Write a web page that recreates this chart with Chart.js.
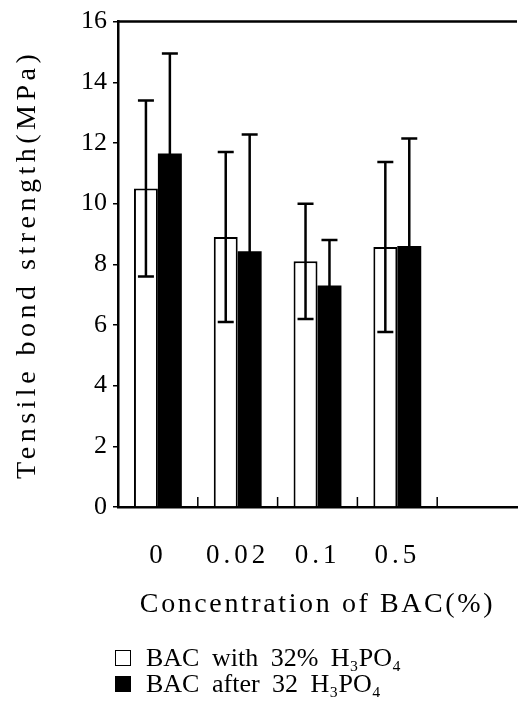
<!DOCTYPE html>
<html>
<head>
<meta charset="utf-8">
<script src="https://cdn.jsdelivr.net/npm/chart.js@4"></script>
<style>
  html, body { margin: 0; padding: 0; background: #fff; }
  #wrap { position: relative; width: 518px; height: 710px; }
  #legend { position: absolute; left: 115px; top: 645px; font-family: "Liberation Serif", serif; font-size: 26px; color: #000; }
  #legend .row { display: flex; align-items: center; height: 26px; white-space: pre; word-spacing: 6px; }
  #legend .box { width: 16px; height: 16px; border: 1.5px solid #000; margin-right: 15px; box-sizing: border-box; }
</style>
</head>
<body>
<div id="wrap">
  <canvas id="myChart" width="518" height="710"></canvas>
  <div id="legend"></div>
</div>
<script>
// data
const categories = ['0', '0.02', '0.1', '0.5', ''];
const withAcid = [10.5, 8.9, 8.1, 8.57, null];
const withAcidErr = [2.9, 2.8, 1.9, 2.8, null];
const afterAcid = [11.65, 8.43, 7.3, 8.6, null];
const afterAcidErr = [3.3, 3.85, 1.5, 3.55, null];
const yTicks = [0, 2, 4, 6, 8, 10, 12, 14, 16];
const seriesNames = ['BAC with 32% H₃PO₄', 'BAC after 32 H₃PO₄'];

const errors = [withAcidErr, afterAcidErr];

// draws the error bars on top of each bar
const errorBars = {
  id: 'errorBars',
  afterDatasetsDraw(chart) {
    const ctx = chart.ctx;
    const y = chart.scales.y;
    ctx.save();
    ctx.strokeStyle = '#000';
    ctx.lineWidth = 2.5;
    chart.data.datasets.forEach((ds, d) => {
      const meta = chart.getDatasetMeta(d);
      meta.data.forEach((bar, i) => {
        const v = ds.data[i], e = errors[d][i];
        if (v == null || e == null) return;
        const top = y.getPixelForValue(v + e);
        const bot = y.getPixelForValue(v - e);
        ctx.beginPath();
        ctx.moveTo(bar.x, top); ctx.lineTo(bar.x, bot);
        ctx.moveTo(bar.x - 8, top); ctx.lineTo(bar.x + 8, top);
        ctx.moveTo(bar.x - 8, bot); ctx.lineTo(bar.x + 8, bot);
        ctx.stroke();
      });
    });
    ctx.restore();
  }
};

// top frame line and small inner ticks between categories
const frame = {
  id: 'frame',
  afterDraw(chart) {
    const ctx = chart.ctx;
    const a = chart.chartArea;
    const x = chart.scales.x;
    ctx.save();
    ctx.strokeStyle = '#000';
    ctx.lineWidth = 2.5;
    ctx.beginPath();
    ctx.moveTo(a.left - 1, a.top);
    ctx.lineTo(a.right, a.top);
    ctx.stroke();
    ctx.lineWidth = 1.5;
    ctx.beginPath();
    for (let i = 1; i < categories.length; i++) {
      const px = x.getPixelForValue(i - 0.5);
      ctx.moveTo(px, a.bottom);
      ctx.lineTo(px, a.bottom - 10);
    }
    ctx.stroke();
    ctx.restore();
  }
};

// wide letter spacing like the original's CJK font, only for some texts
function spaceOut(scale, fn, spacing) {
  const orig = scale[fn].bind(scale);
  scale[fn] = function (...args) {
    const c = this.ctx;
    const prev = c.letterSpacing;
    c.letterSpacing = spacing;
    orig(...args);
    c.letterSpacing = prev;
  };
}
const spacing = {
  id: 'spacing',
  beforeDraw(chart) {
    const { x, y } = chart.scales;
    if (!x._spaced) {
      spaceOut(x, 'drawTitle', '2.6px');
      spaceOut(x, 'drawLabels', '4px');
      x._spaced = true;
    }
    if (!y._spaced) {
      spaceOut(y, 'drawTitle', '4.5px');
      y._spaced = true;
    }
  }
};

// html legend built from the datasets
function buildLegend(chart) {
  const box = document.getElementById('legend');
  box.innerHTML = '';
  chart.data.datasets.forEach(ds => {
    const row = document.createElement('div');
    row.className = 'row';
    const sw = document.createElement('span');
    sw.className = 'box';
    sw.style.background = ds.backgroundColor;
    const txt = document.createElement('span');
    txt.textContent = ds.label;
    row.appendChild(sw);
    row.appendChild(txt);
    box.appendChild(row);
  });
}

const ctx = document.getElementById('myChart');
const chart = new Chart(ctx, {
  type: 'bar',
  data: {
    labels: categories,
    datasets: [
      { label: seriesNames[0], data: withAcid, backgroundColor: '#ffffff', borderColor: '#000000', borderWidth: 2 },
      { label: seriesNames[1], data: afterAcid, backgroundColor: '#000000', borderColor: '#000000', borderWidth: 0 }
    ]
  },
  options: {
    responsive: false,
    animation: false,
    categoryPercentage: 0.6,
    barPercentage: 1.0,
    layout: { padding: { top: 16, right: 1, bottom: 80, left: 0 } },
    plugins: { legend: { display: false }, tooltip: { enabled: false } },
    scales: {
      x: {
        grid: { display: false, drawTicks: false },
        border: { display: true, color: '#000', width: 2.5 },
        ticks: { color: '#000', padding: 33, autoSkip: false, maxRotation: 0, font: { family: 'Liberation Serif', size: 27 } },
        title: { display: true, text: 'Concentration of BAC(%)', color: '#000', padding: { top: 0, bottom: 9 }, font: { family: 'Liberation Serif', size: 28 } },
        afterFit(scale) { scale.height = 123; }
      },
      y: {
        min: 0, max: 16,
        afterBuildTicks(scale) { scale.ticks = yTicks.map(v => ({ value: v })); },
        grid: { drawOnChartArea: false, drawTicks: true, tickLength: 5, color: '#000', lineWidth: 1.5 },
        border: { display: true, color: '#000', width: 2.5 },
        ticks: { color: '#000', padding: 6, font: { family: 'Liberation Serif', size: 26 } },
        title: { display: true, text: 'Tensile bond strength(MPa)', color: '#000', padding: { top: 11, bottom: 0 }, font: { family: 'Liberation Serif', size: 28 } },
        afterFit(scale) { scale.width = 118; }
      }
    }
  },
  plugins: [errorBars, frame, spacing]
});
buildLegend(chart);
</script>
</body>
</html>
